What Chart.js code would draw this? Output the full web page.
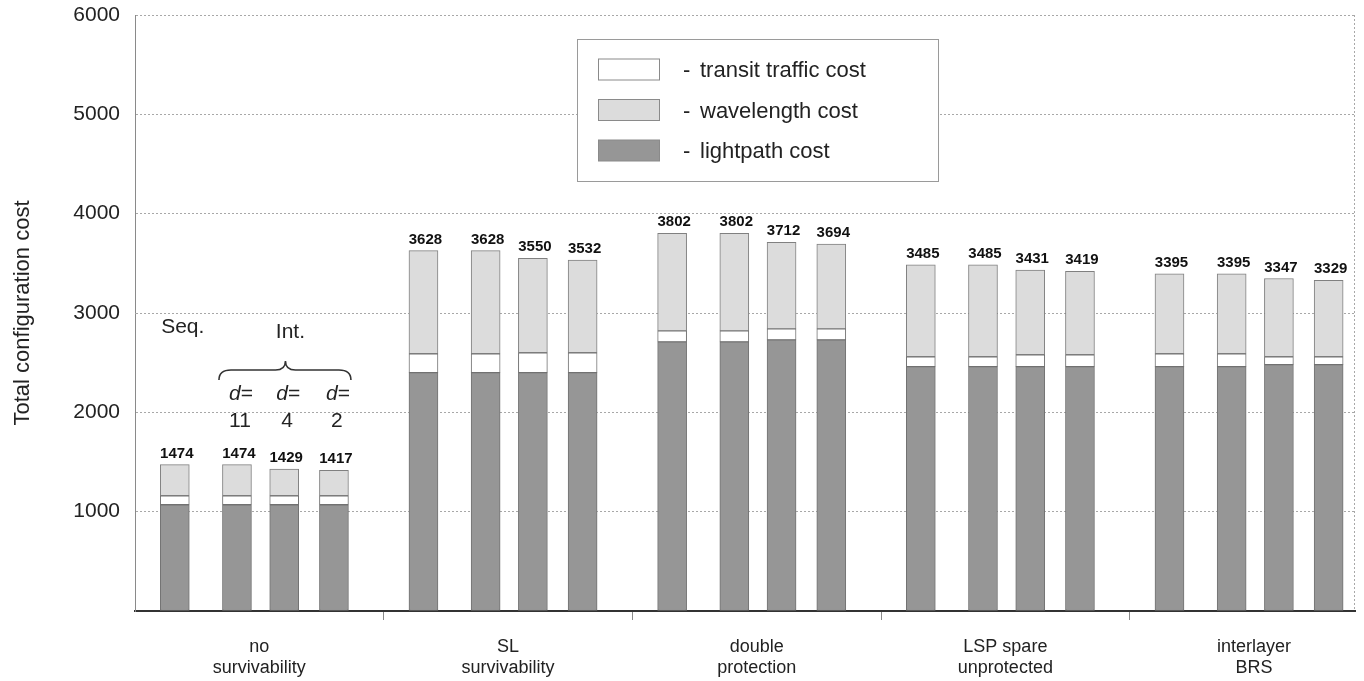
<!DOCTYPE html>
<html>
<head>
<meta charset="utf-8">
<script src="https://cdn.jsdelivr.net/npm/chart.js@4/dist/chart.umd.min.js"></script>
<style>
  html, body { margin: 0; padding: 0; background: #ffffff; }
  #wrap { width: 1364px; height: 681px; }
</style>
</head>
<body>
<div id="wrap"><canvas id="c" width="1364" height="681"></canvas></div>
<script>
// ---------------- data ----------------
const groupLabels = [
  ['no', 'survivability'],
  ['SL', 'survivability'],
  ['double', 'protection'],
  ['LSP spare', 'unprotected'],
  ['interlayer', 'BRS']
];
const variantLabels = ['Seq.', 'd=11', 'd=4', 'd=2'];
const seriesNames = ['lightpath cost', 'transit traffic cost', 'wavelength cost'];

const lightpathCost  = [1070, 1070, 1070, 1070,  2400, 2400, 2400, 2400,  2710, 2710, 2730, 2730,  2460, 2460, 2460, 2460,  2460, 2460, 2480, 2480];
const transitCost    = [  90,   90,   90,   90,   190,  190,  200,  200,   110,  110,  110,  110,   100,  100,  120,  120,   130,  130,   80,   80];
const wavelengthCost = [ 314,  314,  269,  257,  1038, 1038,  950,  932,   982,  982,  872,  854,   925,  925,  851,  839,   805,  805,  787,  769];
const totalLabels    = [1474, 1474, 1429, 1417,  3628, 3628, 3550, 3532,  3802, 3802, 3712, 3694,  3485, 3485, 3431, 3419,  3395, 3395, 3347, 3329];
const yTickValues = [1000, 2000, 3000, 4000, 5000, 6000];

// ---------------- layout (not data) ----------------
const slotOffsets = [0.16, 0.41, 0.60, 0.80];   // bar slot positions inside a group (axis units)
const X_MAX = 4.906;
const FONT = "'Liberation Sans', Arial, Helvetica, sans-serif";
const COLORS = { lightpath: '#969696', transit: '#ffffff', wavelength: '#dcdcdc', edge: '#727272' };

Chart.defaults.font.family = FONT;

function toPoints(values) {
  return values.map((v, i) => ({ x: Math.floor(i / variantLabels.length) + slotOffsets[i % variantLabels.length], y: v }));
}

const datasets = [
  { label: seriesNames[0], data: toPoints(lightpathCost),  backgroundColor: COLORS.lightpath,  borderColor: COLORS.edge, borderWidth: 1, borderSkipped: false },
  { label: seriesNames[1], data: toPoints(transitCost),    backgroundColor: COLORS.transit,    borderColor: COLORS.edge, borderWidth: 1, borderSkipped: false },
  { label: seriesNames[2], data: toPoints(wavelengthCost), backgroundColor: COLORS.wavelength, borderColor: '#808080', borderWidth: 1, borderSkipped: false }
];

// ---------------- plugins ----------------
const rightBorder = {
  id: 'rightBorder',
  beforeDatasetsDraw(chart) {
    const { ctx, chartArea: a } = chart;
    ctx.save();
    ctx.strokeStyle = '#a8a8a8';
    ctx.lineWidth = 1;
    ctx.setLineDash([2, 2]);
    ctx.beginPath();
    ctx.moveTo(a.right - 0.5, a.top);
    ctx.lineTo(a.right - 0.5, a.bottom);
    ctx.stroke();
    ctx.restore();
  }
};

const valueLabels = {
  id: 'valueLabels',
  afterDatasetsDraw(chart) {
    const ctx = chart.ctx;
    const meta = chart.getDatasetMeta(2);
    ctx.save();
    ctx.font = 'bold 15px ' + FONT;
    ctx.fillStyle = '#111';
    ctx.textAlign = 'center';
    ctx.textBaseline = 'alphabetic';
    meta.data.forEach((el, i) => {
      ctx.fillText(String(totalLabels[i]), el.x + 2, el.y - 7);
    });
    ctx.restore();
  }
};

const annotations = {
  id: 'annotations',
  afterDatasetsDraw(chart) {
    const ctx = chart.ctx;
    const xs = chart.scales.x, ys = chart.scales.y;
    const px = slotOffsets.map(o => xs.getPixelForValue(o));
    ctx.save();
    ctx.fillStyle = '#222';
    ctx.strokeStyle = '#333';
    ctx.textBaseline = 'alphabetic';
    ctx.textAlign = 'center';
    ctx.font = '21px ' + FONT;
    ctx.fillText(variantLabels[0], px[0] + 8, ys.getPixelForValue(2800));
    const mid = (px[1] + px[3]) / 2;
    ctx.fillText('Int.', mid + 5, ys.getPixelForValue(2750));

    // brace
    const left = px[1] - 18, right = px[3] + 17;
    const yEnd = ys.getPixelForValue(2326), yBar = ys.getPixelForValue(2426), yPeak = ys.getPixelForValue(2517);
    ctx.lineWidth = 1.6;
    ctx.beginPath();
    ctx.moveTo(left, yEnd);
    ctx.quadraticCurveTo(left, yBar, left + 12, yBar);
    ctx.lineTo(mid - 10, yBar);
    ctx.quadraticCurveTo(mid, yBar, mid, yPeak);
    ctx.quadraticCurveTo(mid, yBar, mid + 10, yBar);
    ctx.lineTo(right - 12, yBar);
    ctx.quadraticCurveTo(right, yBar, right, yEnd);
    ctx.stroke();

    // d= and numbers
    const yD = ys.getPixelForValue(2124), yN = ys.getPixelForValue(1855);
    for (let k = 1; k < variantLabels.length; k++) {
      const parts = variantLabels[k].split('=');
      ctx.font = 'italic 21px ' + FONT;
      const wd = ctx.measureText(parts[0]).width;
      ctx.font = '21px ' + FONT;
      const we = ctx.measureText('=').width;
      const cx = px[k] + 4;
      const start = cx - (wd + we) / 2;
      ctx.textAlign = 'left';
      ctx.font = 'italic 21px ' + FONT;
      ctx.fillText(parts[0], start, yD);
      ctx.font = '21px ' + FONT;
      ctx.fillText('=', start + wd, yD);
      ctx.textAlign = 'center';
      ctx.fillText(parts[1], px[k] + 3, yN);
    }
    ctx.restore();
  }
};

const boxLegend = {
  id: 'boxLegend',
  afterDraw(chart) {
    const ctx = chart.ctx;
    const order = [1, 2, 0];
    const bx = 577.5, by = 39.5, bw = 361, bh = 142;
    ctx.save();
    ctx.fillStyle = '#ffffff';
    ctx.fillRect(bx, by, bw, bh);
    ctx.strokeStyle = '#9a9a9a';
    ctx.lineWidth = 1;
    ctx.strokeRect(bx, by, bw, bh);
    ctx.font = '22px ' + FONT;
    ctx.textBaseline = 'middle';
    ctx.textAlign = 'left';
    order.forEach((di, r) => {
      const ds = chart.data.datasets[di];
      const cy = 69 + r * 40.5;
      ctx.fillStyle = ds.backgroundColor;
      ctx.fillRect(598.5, cy - 10, 61, 21);
      ctx.strokeStyle = '#8a8a8a';
      ctx.strokeRect(598.5, cy - 10, 61, 21);
      ctx.fillStyle = '#222';
      ctx.fillText('-', 683, cy + 2);
      ctx.fillText(ds.label, 700, cy + 2);
    });
    ctx.restore();
  }
};

// ---------------- chart ----------------
new Chart(document.getElementById('c'), {
  type: 'bar',
  data: { datasets },
  options: {
    responsive: false,
    animation: false,
    devicePixelRatio: 1,
    barThickness: 29,
    layout: { padding: { left: 0, right: 9, top: 15, bottom: 0 } },
    plugins: { legend: { display: false }, tooltip: { enabled: false } },
    scales: {
      x: {
        type: 'linear',
        min: 0,
        max: X_MAX,
        stacked: true,
        offset: false,
        afterBuildTicks: s => {
          const t = [];
          groupLabels.forEach((g, i) => { if (i > 0) t.push(i); t.push(i + 0.5); });
          s.ticks = t.map(v => ({ value: v }));
        },
        afterFit: s => { s.height = 70; s.paddingLeft = 0; s.paddingRight = 0; },
        ticks: {
          autoSkip: false,
          maxRotation: 0,
          minRotation: 0,
          padding: 16,
          color: '#222',
          font: { size: 18 },
          callback: v => Number.isInteger(v) ? '' : groupLabels[Math.floor(v)]
        },
        grid: {
          offset: false,
          drawOnChartArea: false,
          drawTicks: true,
          tickLength: 9,
          lineWidth: 1,
          color: c => (c.tick && Number.isInteger(c.tick.value)) ? '#8a8a8a' : 'rgba(0,0,0,0)'
        },
        border: { display: true, color: '#333', width: 2 }
      },
      y: {
        stacked: true,
        min: 0,
        max: 6000,
        afterBuildTicks: s => { s.ticks = [0].concat(yTickValues).map(v => ({ value: v })); },
        afterFit: s => { s.width = 135; s.paddingTop = 0; s.paddingBottom = 0; },
        ticks: {
          padding: 15,
          color: '#222',
          font: { size: 21 },
          callback: v => v === 0 ? '' : String(v)
        },
        grid: {
          drawTicks: false,
          lineWidth: 1,
          color: c => (c.tick && c.tick.value === 0) ? 'rgba(0,0,0,0)' : '#a8a8a8'
        },
        border: { display: true, color: '#8a8a8a', width: 1, dash: [2, 2] },
        title: {
          display: true,
          text: 'Total configuration cost',
          color: '#222',
          font: { size: 22 },
          padding: { top: 10, bottom: 0 }
        }
      }
    }
  },
  plugins: [rightBorder, valueLabels, annotations, boxLegend]
});
</script>
</body>
</html>
